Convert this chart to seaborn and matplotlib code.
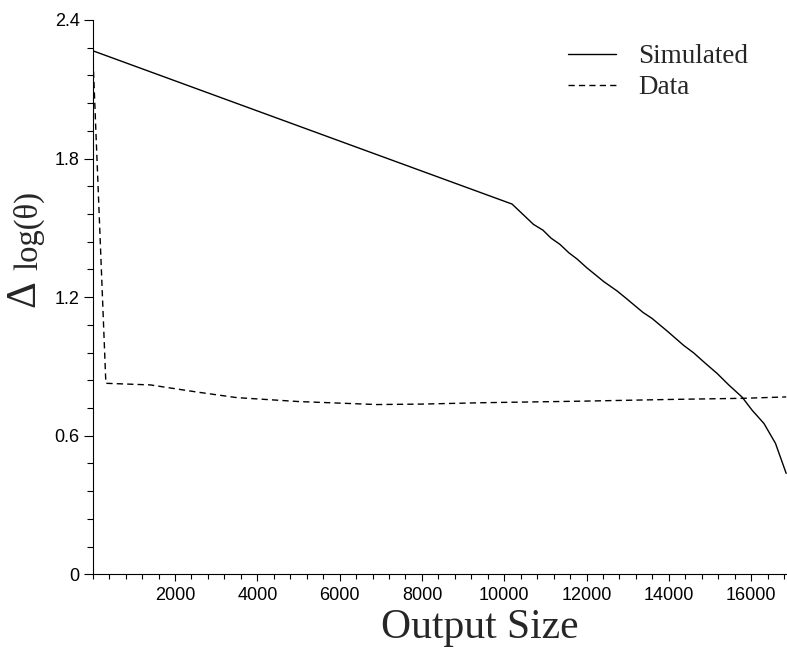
import matplotlib
matplotlib.use("Agg")
import matplotlib.pyplot as plt
import seaborn as sns
import numpy as np
import pandas as pd
from matplotlib.ticker import FixedLocator, MultipleLocator

# Simulated curve: output size vs. delta log(theta)
sim_x = [0, 10190, 10710, 10940, 11140, 11350, 11570, 11770, 12000, 12420,
         12740, 12940, 13370, 13590, 13960, 14360, 14600, 14890, 15170,
         15460, 15780, 16020, 16310, 16590, 16850]
sim_y = [2.267, 1.603, 1.515, 1.490, 1.455, 1.429, 1.392, 1.365, 1.328, 1.267,
         1.227, 1.198, 1.134, 1.108, 1.053, 0.991, 0.959, 0.913, 0.870,
         0.819, 0.767, 0.711, 0.653, 0.567, 0.437]

# Measured data curve
data_x = [0, 320, 1400, 2500, 3500, 5000, 6900, 8000, 9500, 12000, 14000,
          15800, 16850]
data_y = [2.267, 0.827, 0.820, 0.790, 0.765, 0.748, 0.735, 0.737, 0.743,
          0.750, 0.757, 0.762, 0.768]

y_major = [0, 0.6, 1.2, 1.8, 2.4]
y_labels = ["0", "0.6", "1.2", "1.8", "2.4"]
x_major = [2000, 4000, 6000, 8000, 10000, 12000, 14000, 16000]

sim_df = pd.DataFrame({"size": sim_x, "delta": sim_y, "series": "Simulated"})
data_df = pd.DataFrame({"size": data_x, "delta": data_y, "series": "Data"})

sns.set_style("ticks")
plt.rcParams["font.family"] = ["Liberation Sans", "DejaVu Sans"]

fig = plt.figure(figsize=(7.87, 6.55), dpi=100)
ax = fig.add_axes([92.7 / 787, 80.7 / 655, (787 - 92.7) / 787, (574.3 - 20) / 655])

sns.lineplot(data=sim_df, x="size", y="delta", ax=ax, color="black",
             linewidth=1.0, label="Simulated", sort=False, estimator=None)
sns.lineplot(data=data_df, x="size", y="delta", ax=ax, color="black",
             linewidth=1.0, linestyle=(0, (4.5, 3)), label="Data",
             sort=False, estimator=None)

ax.set_xlim(0, 16870)
ax.set_ylim(0, 2.4)

ax.yaxis.set_major_locator(FixedLocator(y_major))
ax.set_yticklabels(y_labels)
ax.yaxis.set_minor_locator(MultipleLocator(0.12))
ax.xaxis.set_major_locator(FixedLocator(x_major))
ax.set_xticklabels([str(v) for v in x_major])
ax.xaxis.set_minor_locator(MultipleLocator(400))

ax.tick_params(axis="y", which="major", length=6.3, width=0.8, pad=3,
               labelsize=13, color="black", labelcolor="black")
ax.tick_params(axis="y", which="minor", length=4.5, width=0.8, color="black")
ax.tick_params(axis="x", which="major", length=5.3, width=0.8, pad=4,
               labelsize=13, color="black", labelcolor="black")
ax.tick_params(axis="x", which="minor", length=3.5, width=0.8, color="black")

for side in ("top", "right"):
    ax.spines[side].set_visible(False)
for side in ("left", "bottom"):
    ax.spines[side].set_linewidth(0.8)
    ax.spines[side].set_color("black")

ax.set_xlabel("Output Size", family="Liberation Serif", fontsize=30)
ax.xaxis.set_label_coords((480 - 92.7) / 694.3, -0.062)
ax.set_ylabel("")

# y-axis label: large Delta followed by a smaller log(theta)
ax.text(-0.099, 0.507, "Δ", transform=ax.transAxes, rotation=90,
        family="Liberation Serif", fontsize=30, ha="center", va="center")
ax.text(-0.092, 0.620, "log(θ)", transform=ax.transAxes, rotation=90,
        family="Liberation Serif", fontsize=23.5, ha="center", va="center")

leg = ax.legend(loc="upper right", bbox_to_anchor=(0.979, 1.0), frameon=False,
                prop={"family": "Liberation Serif", "size": 19.5},
                handlelength=1.8, handletextpad=0.8, labelspacing=0.22)
for line in leg.get_lines():
    line.set_linewidth(1.0)

fig.savefig("out.png", dpi=100)
